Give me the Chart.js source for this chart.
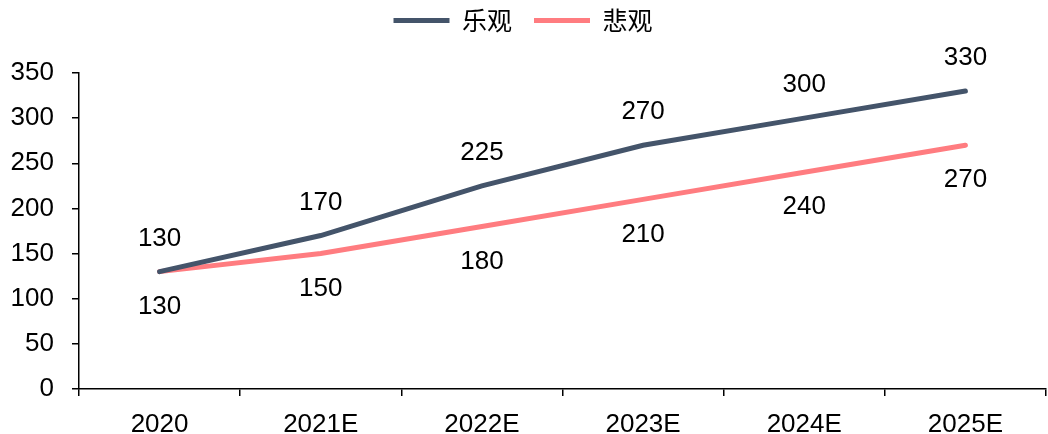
<!DOCTYPE html>
<html>
<head>
<meta charset="utf-8">
<script src="https://cdn.jsdelivr.net/npm/chart.js@4/dist/chart.umd.min.js"></script>
<style>
  html, body { margin: 0; padding: 0; background: #fff; }
  #wrap { width: 1048px; height: 434px; }
</style>
</head>
<body>
<div id="wrap"><canvas id="myChart" width="1048" height="434"></canvas></div>
<script>
var years = ['2020', '2021E', '2022E', '2023E', '2024E', '2025E'];
var optimistic = [130, 170, 225, 270, 300, 330];
var pessimistic = [130, 150, 180, 210, 240, 270];
var yTicks = [0, 50, 100, 150, 200, 250, 300, 350];

var numFont = '"Liberation Sans", Arial, sans-serif';

// value labels: optimistic above the line, pessimistic below
var valueLabels = {
    id: 'valueLabels',
    afterDatasetsDraw: function (chart) {
        var ctx = chart.ctx;
        ctx.save();
        ctx.font = '26px ' + numFont;
        ctx.fillStyle = '#000';
        ctx.textAlign = 'center';
        ctx.textBaseline = 'middle';
        chart.data.datasets.forEach(function (ds, i) {
            var meta = chart.getDatasetMeta(i);
            meta.data.forEach(function (pt, j) {
                var dy = i === 0 ? -33 : 35;
                ctx.fillText(ds.data[j], pt.x, pt.y + dy);
            });
        });
        ctx.restore();
    }
};

// extra room between the legend and the plot
var legendGap = {
    id: 'legendGap',
    beforeInit: function (chart) {
        var origFit = chart.legend.fit;
        chart.legend.fit = function () {
            origFit.bind(chart.legend)();
            this.height += 30;
        };
    }
};

var ctx = document.getElementById('myChart').getContext('2d');
var chart = new Chart(ctx, {
    type: 'line',
    data: {
        labels: years,
        datasets: [{
            label: '乐观',
            data: optimistic,
            borderColor: '#44546A',
            backgroundColor: '#44546A',
            borderWidth: 5,
            borderCapStyle: 'round',
            pointRadius: 0,
            pointStyle: 'line',
            tension: 0
        }, {
            label: '悲观',
            data: pessimistic,
            borderColor: '#FF7C80',
            backgroundColor: '#FF7C80',
            borderWidth: 5,
            borderCapStyle: 'round',
            pointRadius: 0,
            pointStyle: 'line',
            tension: 0
        }]
    },
    options: {
        responsive: false,
        animation: false,
        layout: { padding: { top: -14, right: 2, bottom: 0, left: 0 } },
        plugins: {
            legend: {
                position: 'top',
                labels: {
                    usePointStyle: true,
                    pointStyleWidth: 56,
                    boxHeight: 5,
                    padding: 22,
                    color: '#000',
                    font: { family: '"Noto Sans CJK SC", sans-serif', size: 25 }
                }
            },
            tooltip: { enabled: false }
        },
        scales: {
            x: {
                offset: true,
                grid: {
                    offset: true,
                    drawOnChartArea: false,
                    drawTicks: true,
                    tickLength: 7,
                    color: '#000',
                    lineWidth: 1.5
                },
                border: { color: '#000', width: 1.5 },
                ticks: {
                    color: '#000',
                    padding: 13,
                    maxRotation: 0,
                    font: { family: numFont, size: 26 }
                },
                afterFit: function (scale) { scale.height = 45; }
            },
            y: {
                min: 0,
                max: 350,
                afterBuildTicks: function (scale) {
                    scale.ticks = yTicks.map(function (v) { return { value: v }; });
                },
                grid: {
                    drawOnChartArea: false,
                    drawTicks: true,
                    tickLength: 7,
                    color: '#000',
                    lineWidth: 1.5
                },
                border: { color: '#000', width: 1.5 },
                ticks: {
                    color: '#000',
                    padding: 18,
                    font: { family: numFont, size: 26 }
                },
                afterFit: function (scale) { scale.width = 79; }
            }
        }
    },
    plugins: [valueLabels, legendGap]
});
</script>
</body>
</html>
